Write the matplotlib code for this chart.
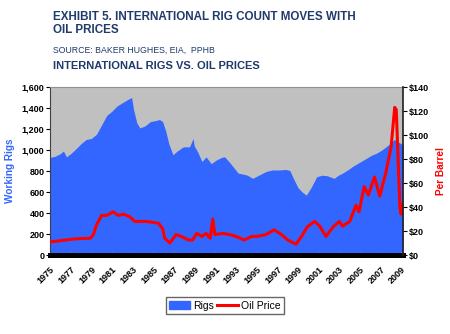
import matplotlib.pyplot as plt
from matplotlib.patches import Patch
from matplotlib.lines import Line2D
from matplotlib.ticker import FuncFormatter

plt.rcParams['font.family'] = ['Liberation Sans', 'DejaVu Sans']

# 国際リグ数 (年, 基数)
rig_years = [1975.0, 1975.5, 1976.0, 1976.3, 1976.6, 1977.0, 1977.5, 1978.0, 1978.5, 1979.0,
             1979.5, 1980.0, 1980.5, 1981.0, 1981.5, 1982.0, 1982.5, 1982.9, 1983.1, 1983.4,
             1983.7, 1984.2, 1984.7, 1985.2, 1985.6, 1985.9, 1986.2, 1986.5, 1986.9, 1987.3,
             1987.9, 1988.5, 1988.85, 1988.95, 1989.3, 1989.7, 1990.1, 1990.6, 1991.1, 1991.6,
             1991.9, 1992.4, 1992.8, 1993.2, 1993.7, 1994.1, 1994.6, 1995.2, 1995.9, 1996.5,
             1997.2, 1997.8, 1998.2, 1998.6, 1999.0, 1999.4, 1999.8, 2000.3, 2000.8, 2001.3,
             2001.8, 2002.5, 2002.9, 2003.3, 2003.8, 2004.3, 2004.9, 2005.6, 2006.1, 2006.6,
             2007.1, 2007.5, 2007.9, 2008.3, 2008.6, 2008.8, 2009.15]
rigs = [930, 940, 965, 990, 935, 965, 1010, 1060, 1100, 1110,
        1150, 1240, 1330, 1370, 1420, 1450, 1480, 1500, 1380, 1260,
        1210, 1230, 1270, 1280, 1290, 1270, 1180, 1060, 955, 990,
        1030, 1030, 1110, 1040, 980, 890, 935, 870, 905, 930,
        935, 880, 830, 780, 770, 760, 730, 760, 795, 810,
        810, 815, 805, 720, 640, 600, 570, 650, 745, 760,
        755, 730, 760, 780, 810, 845, 880, 920, 950, 970,
        1000, 1030, 1060, 1100, 1080, 1070, 1050]

# 原油価格 (年, $/バレル)
oil_years = [1975.0, 1975.6, 1976.5, 1977.5, 1978.9, 1979.2, 1979.5, 1980.0, 1980.5, 1981.1,
             1981.6, 1982.1, 1982.7, 1983.2, 1984.3, 1985.5, 1985.9, 1986.1, 1986.6, 1987.2,
             1987.7, 1988.4, 1988.8, 1989.2, 1989.7, 1990.1, 1990.5, 1990.75, 1990.95, 1991.7,
             1992.4, 1993.0, 1993.8, 1994.5, 1995.0, 1995.9, 1996.7, 1997.4, 1998.0, 1998.8,
             1999.3, 1999.9, 2000.6, 2001.1, 2001.7, 2002.4, 2003.0, 2003.3, 2004.0, 2004.6,
             2004.9, 2005.4, 2005.8, 2006.4, 2006.9, 2007.5, 2008.0, 2008.35, 2008.5, 2008.7,
             2008.85, 2008.95, 2009.1]
oil = [11, 11.5, 12.5, 13.5, 14, 17, 25, 33, 33, 36,
       33, 34, 32, 28, 28, 26.5, 22, 14, 10, 17,
       15.5, 12.5, 12.5, 18, 15.5, 18, 14, 30, 17, 18,
       17, 15.5, 12.5, 15.5, 15.5, 17, 21, 17, 12.5, 9,
       15, 23.5, 28, 24, 15.5, 23.5, 28, 24, 28, 41.5,
       36, 57, 50, 65, 49, 69, 90, 123, 121, 75,
       40, 34, 42]

year_ticks = list(range(1975, 2010, 2))

navy = '#1F3A6B'
blue = '#3366FF'

fig = plt.figure(figsize=(4.5, 3.34), dpi=100)
ax = fig.add_axes([0.111, 0.2365, 0.7845, 0.503])
ax.set_facecolor('#C0C0C0')
ax.fill_between(rig_years, 0, rigs, color=blue, lw=0)
ax.set_xlim(1975, 2009.15)
ax.set_ylim(0, 1600)
ax.set_yticks(range(0, 1601, 200))
ax.yaxis.set_major_formatter(FuncFormatter(lambda v, p: '{:,.0f}'.format(v)))
ax.set_xticks(year_ticks)
ax.set_xticklabels([str(y) for y in year_ticks], rotation=45, ha='right',
                   rotation_mode='anchor')
ax.tick_params(axis='x', length=2.5, width=0.8, color='#8a8a8a', direction='in',
               pad=7, labelsize=6.5)
ax.tick_params(axis='y', length=3, labelsize=6.5, pad=1)
for lab in ax.get_xticklabels() + ax.get_yticklabels():
    lab.set_fontweight('bold')
ax.spines['bottom'].set_linewidth(3.6)
ax.spines['bottom'].set_color('black')
ax.spines['left'].set_color('#404040')
ax.spines['top'].set_color('#909090')
ax.spines['right'].set_visible(False)
ax.set_ylabel('Working Rigs', color=blue, fontsize=7.2, fontweight='bold', labelpad=5)

ax2 = ax.twinx()
ax2.plot(oil_years, oil, color='#FF0000', lw=2.2)
ax2.set_ylim(0, 140)
ax2.set_yticks(range(0, 141, 20))
ax2.yaxis.set_major_formatter(FuncFormatter(lambda v, p: '${:.0f}'.format(v)))
ax2.tick_params(axis='y', length=3, labelsize=6.5, pad=1)
for lab in ax2.get_yticklabels():
    lab.set_fontweight('bold')
ax2.spines['right'].set_color('#202020')
ax2.spines['right'].set_linewidth(1.2)
for s in ['top', 'left', 'bottom']:
    ax2.spines[s].set_visible(False)
ax2.set_ylabel('Per Barrel', color='#FF0000', fontsize=7.2, fontweight='bold', labelpad=5)

handles = [Patch(color=blue), Line2D([], [], color='#FF0000', lw=2.2)]
leg = fig.legend(handles, ['Rigs', 'Oil Price'], loc='center', bbox_to_anchor=(0.5, 0.085),
                 ncol=2, fontsize=7.5, fancybox=False, edgecolor='#404040',
                 handlelength=2.0, handletextpad=0.3, columnspacing=0.3,
                 borderpad=0.35)
leg.get_frame().set_linewidth(1.0)

fig.text(0.118, 0.968, 'EXHIBIT 5. INTERNATIONAL RIG COUNT MOVES WITH\nOIL PRICES',
         color=navy, fontsize=8.4, fontweight='bold', va='top', linespacing=1.1)
fig.text(0.118, 0.862, 'SOURCE: BAKER HUGHES, EIA,  PPHB', color=navy, fontsize=6.3,
         va='top')
fig.text(0.118, 0.818, 'INTERNATIONAL RIGS VS. OIL PRICES', color=navy, fontsize=8,
         fontweight='bold', va='top')

fig.savefig('out.png', dpi=100)
